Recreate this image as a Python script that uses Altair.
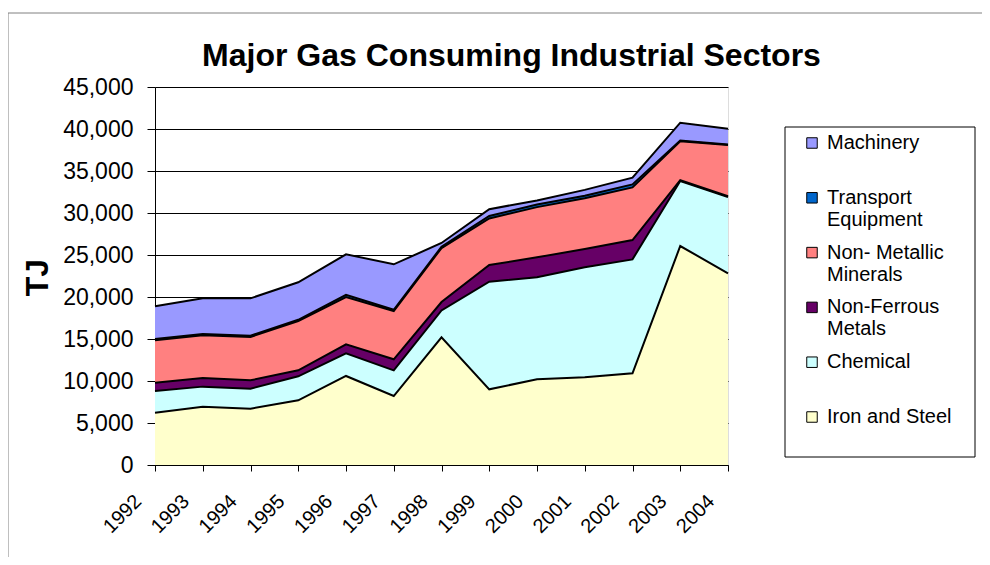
import altair as alt
import pandas as pd

years = list(range(1992, 2005))
iron = [6230, 6940, 6710, 7700, 10600, 8210, 15200, 9010, 10200, 10440, 10910, 26070, 22820]
chemical = [2580, 2390, 2380, 2860, 2690, 3060, 3200, 12810, 12140, 13090, 13570, 7730, 9080]
nonferrous = [990, 1030, 990, 710, 1070, 1310, 1000, 1990, 2380, 2180, 2300, 100, 100]
nonmetallic = [5040, 5080, 5160, 5870, 5640, 5750, 6430, 5540, 5980, 6040, 6270, 4650, 6100]
transport = [150, 150, 150, 150, 250, 150, 150, 300, 300, 300, 350, 80, 50]
machinery = [3900, 4250, 4450, 4460, 4830, 5410, 450, 800, 500, 700, 800, 2120, 1890]

series_names = ["Iron and Steel", "Chemical", "Non-Ferrous Metals",
                "Non- Metallic Minerals", "Transport Equipment", "Machinery"]
series_labels = ["Iron and Steel", "Chemical", "Non-Ferrous\nMetals",
                 "Non- Metallic\nMinerals", "Transport\nEquipment", "Machinery"]
series_values = [iron, chemical, nonferrous, nonmetallic, transport, machinery]
series_colors = ["#FFFFCC", "#CCFFFF", "#660066", "#FF8080", "#0066CC", "#9999FF"]

legend_order = series_names[::-1]
legend_colors = series_colors[::-1]

rows = []
for idx, (name, vals) in enumerate(zip(series_names, series_values)):
    for y, v in zip(years, vals):
        rows.append({"year": y, "series": name, "value": v, "idx": idx})
df = pd.DataFrame(rows)

leg_df = pd.DataFrame({"series": series_names, "label": series_labels})

FONT = "Liberation Sans"
color_scale = alt.Scale(domain=legend_order, range=legend_colors)

base = alt.Chart(df).transform_stack(
    stack="value", groupby=["year"], as_=["y0", "y1"],
    sort=[alt.SortField("idx", order="ascending")]
)

x_enc = alt.X("year:Q", scale=alt.Scale(domain=[1992, 2004], nice=False, zero=False),
              axis=alt.Axis(values=years, format="d", title=None, grid=False,
                            labelAngle=-45, labelAlign="right", labelBaseline="middle",
                            labelPadding=27, labelOffset=-17, tickSize=6, labelFontSize=20,
                            labelFont=FONT, labelColor="black",
                            domainColor="black", tickColor="black"))

y_axis = alt.Axis(values=list(range(0, 45001, 5000)), format=",.0f", title="TJ",
                  titleFont=FONT, titleFontSize=32, titleFontWeight="bold",
                  titleColor="black", titleX=-108, titleY=190, titleAngle=-90,
                  titleAlign="center", titleBaseline="alphabetic",
                  labelFont=FONT, labelFontSize=23, labelColor="black",
                  labelPadding=14, tickSize=8, grid=True, gridColor="black",
                  gridOpacity=1, gridWidth=1, domainColor="black", tickColor="black")

y_enc = alt.Y("y1:Q", scale=alt.Scale(domain=[0, 45000], nice=False), axis=y_axis)

area = base.mark_area(opacity=1).encode(
    x=x_enc,
    y=y_enc,
    y2="y0:Q",
    color=alt.Color("series:N", scale=color_scale, legend=None),
    order=alt.Order("idx:Q")
)

lines = base.mark_line(color="black", strokeWidth=2).encode(
    x=x_enc,
    y=y_enc,
    detail="series:N"
)

frame = alt.Chart(alt.Data(values=[{}])).mark_rect(
    filled=False, stroke="#808080", strokeWidth=1
).encode(
    x=alt.value(-147), x2=alt.value(900), y=alt.value(-74), y2=alt.value(600)
)

legbox = alt.Chart(alt.Data(values=[{}])).mark_rect(
    fill="white", stroke="black", strokeWidth=1
).encode(
    x=alt.value(630), x2=alt.value(820), y=alt.value(40), y2=alt.value(370)
)

leg_y = alt.Y("series:N", scale=alt.Scale(domain=legend_order, range=[56, 330], padding=0),
              axis=None)

leg_sq = alt.Chart(leg_df).mark_square(size=110, opacity=1, stroke="black", strokeWidth=1).encode(
    x=alt.value(657), y=leg_y,
    color=alt.Color("series:N", scale=color_scale, legend=None)
)

leg_txt = alt.Chart(leg_df).mark_text(
    align="left", baseline="top", dy=-10, lineBreak="\n", lineHeight=22,
    font=FONT, fontSize=20, color="black"
).encode(
    x=alt.value(672), y=leg_y, text="label:N"
)

main = alt.layer(frame, area, lines)
legend = alt.layer(legbox, leg_sq, leg_txt)

chart = alt.layer(main, legend).resolve_scale(y="independent").properties(
    width=573, height=378,
    padding={"left": 147, "top": 79, "right": 254, "bottom": 92},
    autosize="none",
    title=alt.Title("Major Gas Consuming Industrial Sectors", font=FONT, fontSize=32,
                    fontWeight="bold", color="black", anchor="middle", frame="group",
                    dx=70, offset=-85, baseline="alphabetic")
).configure_view(stroke="#808080", strokeWidth=1).configure(background="white")

chart.save("out.html", embed_options={"renderer": "svg", "actions": False})
